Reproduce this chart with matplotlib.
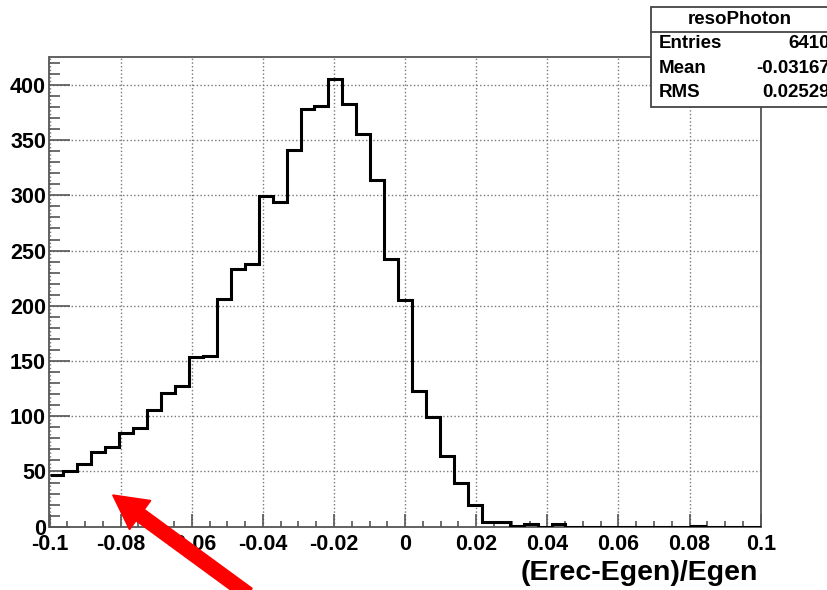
import numpy as np
import matplotlib
matplotlib.use("Agg")
import matplotlib.pyplot as plt
from matplotlib.patches import Rectangle, FancyArrow
from matplotlib.lines import Line2D
from matplotlib.ticker import MultipleLocator, FuncFormatter
from matplotlib.transforms import IdentityTransform

plt.rcParams['font.family'] = ['Liberation Sans', 'DejaVu Sans']
plt.rcParams['font.weight'] = 'bold'

# histogram resoPhoton, 51 bins in [-0.1, 0.1]
x_lo, x_hi, n_bins = -0.1, 0.1, 51
counts = [47, 50, 57, 68, 72, 85, 89, 106, 121, 127,
          154, 155, 206, 233, 238, 299, 294, 341, 378, 381,
          405, 383, 356, 314, 242, 205, 123, 99, 64, 40,
          20, 4, 4, 1, 2, 0, 2, 0, 0, 0,
          0, 0, 0, 0, 0, 0, 1, 0, 0, 0, 0]
stat_names = ["Entries", "Mean", "RMS"]
stat_values = ["6410", "-0.03167", "0.02529"]
hist_name = "resoPhoton"
x_title = "(Erec-Egen)/Egen"

W, H = 828, 590
fig = plt.figure(figsize=(W / 100, H / 100), dpi=100)
ax = fig.add_axes([49.5 / W, (H - 526.7) / H, (760.7 - 49.5) / W, (526.7 - 57.3) / H])

edges = np.linspace(x_lo, x_hi, n_bins + 1)
# no end verticals, like ROOT's outline
ax.stairs(counts, edges, baseline=None, color="black", linewidth=2.2, zorder=3)

ax.set_xlim(x_lo, x_hi)
ax.set_ylim(0, 425)
ax.xaxis.set_major_locator(MultipleLocator(0.02))
ax.xaxis.set_minor_locator(MultipleLocator(0.005))
ax.yaxis.set_major_locator(MultipleLocator(50))
ax.yaxis.set_minor_locator(MultipleLocator(10))


def fmt(v, pos):
    s = "%g" % round(v, 4)
    return "0" if s == "-0" else s


ax.xaxis.set_major_formatter(FuncFormatter(fmt))
ax.grid(True, which="major", linestyle=":", color="#777777", linewidth=1)
ax.tick_params(axis="x", which="major", direction="in", length=9.4, width=1.2,
               color="#555555", labelsize=15.5, pad=5)
ax.tick_params(axis="x", which="minor", direction="in", length=4.3, width=1.2, color="#555555")
ax.tick_params(axis="y", which="major", direction="in", length=15, width=1.2,
               color="#555555", labelsize=15.5, pad=2.5)
ax.tick_params(axis="y", which="minor", direction="in", length=8, width=1.2, color="#555555")
for s in ax.spines.values():
    s.set_color("#555555")
    s.set_linewidth(1.3)

fig.text(758 / W, (H - 573) / H, x_title, fontsize=20.5, fontweight="bold",
         ha="right", va="center")

# stats box
bx0, by_top, by_sep, by_bot = 651, 6.7, 32.3, 107.3
fig.add_artist(Rectangle((bx0 / W, (H - by_bot) / H), (W + 20 - bx0) / W,
                         (by_bot - by_top) / H, transform=fig.transFigure,
                         facecolor="white", edgecolor="#444444", linewidth=1.3, zorder=5))
fig.add_artist(Line2D([bx0 / W, 1.02], [(H - by_sep) / H] * 2, transform=fig.transFigure,
                      color="#444444", linewidth=1.3, zorder=6))
fig.text(740 / W, (H - 19) / H, hist_name, fontsize=13.5, fontweight="bold",
         ha="center", va="center", zorder=7)
row_y = [43, 68.3, 92.5]
for name, val, ry in zip(stat_names, stat_values, row_y):
    fig.text(659 / W, (H - ry) / H, name, fontsize=13.5, fontweight="bold",
             ha="left", va="center", zorder=7)
    fig.text(830 / W, (H - ry) / H, val, fontsize=13.5, fontweight="bold",
             ha="right", va="center", zorder=7)

# red arrow pointing at the left tail
tip = (112.7, H - 495)
tail = (248, H - 594)
fig.add_artist(FancyArrow(tail[0], tail[1], tip[0] - tail[0], tip[1] - tail[1],
                          width=14, head_width=36, head_length=34,
                          length_includes_head=True, color="red",
                          transform=IdentityTransform(), zorder=8))

fig.savefig("out.png", dpi=100)
